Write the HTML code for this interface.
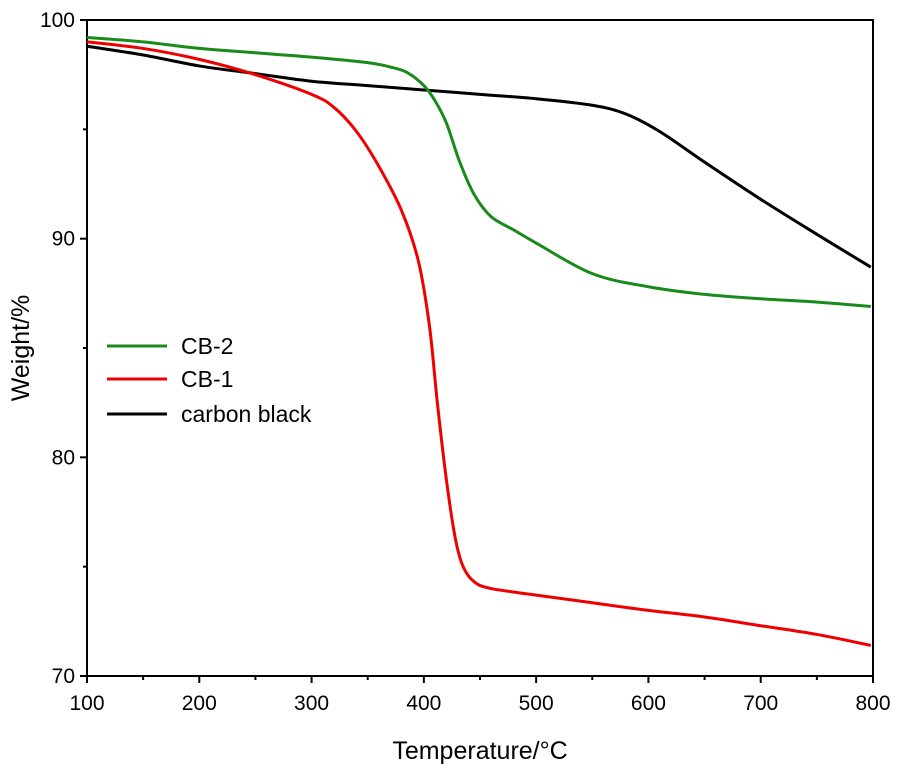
<!DOCTYPE html>
<html><head><meta charset="utf-8"><style>
body{margin:0;background:#fff}
svg text{font-family:"Liberation Sans",Arial,sans-serif}
</style></head><body>
<svg id="chart" width="900" height="772" xmlns="http://www.w3.org/2000/svg"></svg>
<script>
const xTicks=[100,200,300,400,500,600,700,800];
const yTicks=[70,80,90,100];
const cb2T=[100,150,200,250,300,350,370,385,400,410,420,432,445,460,480,500,550,600,650,700,750,798];
const cb2W=[99.2,99.0,98.7,98.5,98.3,98.05,97.85,97.6,97.0,96.3,95.3,93.5,92.0,91.0,90.4,89.8,88.4,87.8,87.45,87.25,87.1,86.9];
const cb1T=[100,150,200,250,300,320,340,360,380,395,405,412,420,428,435,445,460,500,550,600,650,700,750,798];
const cb1W=[99.0,98.7,98.2,97.5,96.6,96.0,94.9,93.3,91.3,89.0,86.0,82.5,79.0,76.3,75.0,74.3,74.0,73.7,73.35,73.0,72.7,72.3,71.9,71.4];
const cbT=[100,150,200,250,300,350,400,450,500,550,580,610,650,700,750,798];
const cbW=[98.8,98.4,97.9,97.55,97.2,97.0,96.8,96.6,96.4,96.1,95.7,94.9,93.5,91.8,90.2,88.7];
const svg=document.getElementById('chart');
const NS='http://www.w3.org/2000/svg';
const X0=87,X1=873,Y0=676,Y1=20;
const sx=t=>X0+(t-100)/700*(X1-X0);
const sy=w=>Y0-(w-70)/30*(Y0-Y1);
function mk(tag,attrs,txt){const e=document.createElementNS(NS,tag);for(const k in attrs)e.setAttribute(k,attrs[k]);if(txt!==undefined)e.textContent=txt;svg.appendChild(e);return e;}
function smooth(T,W){const p=T.map((t,i)=>[sx(t),sy(W[i])]);let d='M'+p[0][0]+','+p[0][1];
for(let i=0;i<p.length-1;i++){const a=p[i-1]||p[i],b=p[i],c=p[i+1],e=p[i+2]||c;
d+=' C'+(b[0]+(c[0]-a[0])/6)+','+(b[1]+(c[1]-a[1])/6)+' '+(c[0]-(e[0]-b[0])/6)+','+(c[1]-(e[1]-b[1])/6)+' '+c[0]+','+c[1];}return d;}
let f=mk('rect',{x:X0,y:Y1,width:X1-X0,height:Y0-Y1,fill:'none',stroke:'#000','stroke-width':2});

xTicks.forEach((t,i)=>{let l=mk('line',{x1:sx(t),x2:sx(t),y1:Y0,y2:Y0+7,stroke:'#000','stroke-width':2});

if(i<xTicks.length-1){let m=mk('line',{x1:sx(t+50),x2:sx(t+50),y1:Y0,y2:Y0+4,stroke:'#000','stroke-width':2});
}
let tx=mk('text',{x:sx(t),y:Y0+34,'font-size':21,'text-anchor':'middle'},String(t));
});
yTicks.forEach((w,i)=>{let l=mk('line',{x1:X0-7,x2:X0,y1:sy(w),y2:sy(w),stroke:'#000','stroke-width':2});

if(i<yTicks.length-1){let m=mk('line',{x1:X0-4,x2:X0,y1:sy(w+5),y2:sy(w+5),stroke:'#000','stroke-width':2});
}
let tx=mk('text',{x:X0-12,y:sy(w)+7,'font-size':21,'text-anchor':'end'},String(w));
});
[[cbT,cbW,'#000','carbon-black-line'],[cb1T,cb1W,'#ee0000','cb-1-line'],[cb2T,cb2W,'#1a8a1a','cb-2-line']].forEach(s=>{
let p=mk('path',{d:smooth(s[0],s[1]),fill:'none',stroke:s[2],'stroke-width':3});
});
[['CB-2','#1a8a1a',346],['CB-1','#ee0000',379],['carbon black','#000',414]].forEach(L=>{
let l=mk('line',{x1:107,x2:167,y1:L[2],y2:L[2],stroke:L[1],'stroke-width':3});

let t=mk('text',{x:181,y:L[2]+8,'font-size':23},L[0]);
});
let xt=mk('text',{x:480,y:759,'font-size':25,'text-anchor':'middle'},'Temperature/°C');

let yt=mk('text',{x:0,y:0,'font-size':25,'text-anchor':'middle',transform:'translate(29,348) rotate(-90)'},'Weight/%');

</script>
</body></html>
